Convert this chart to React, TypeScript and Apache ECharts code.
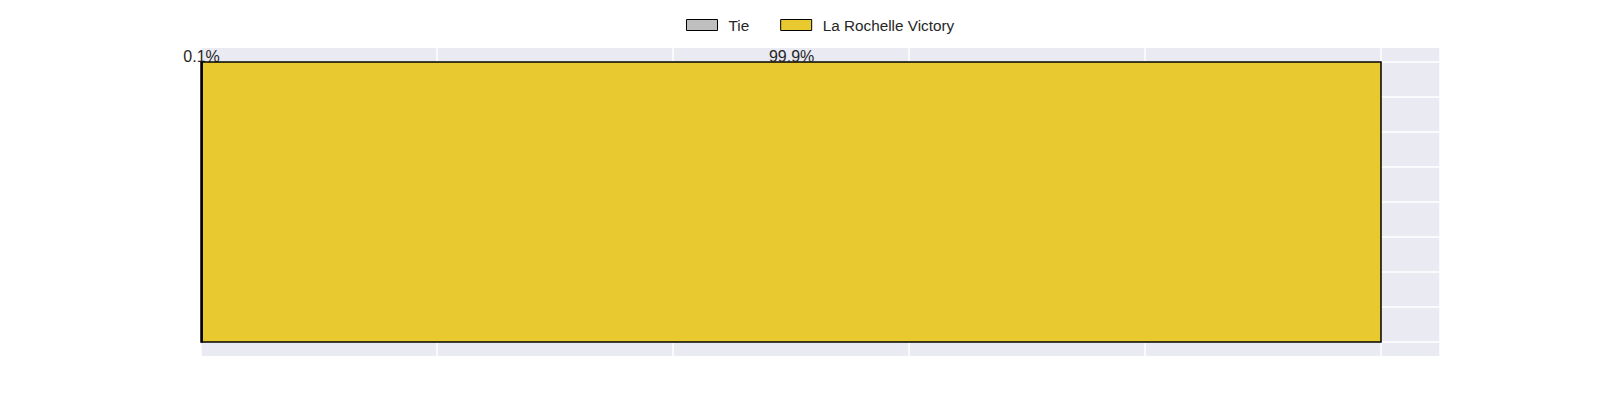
import React, { useEffect, useRef } from "react";
import * as echarts from "echarts";

const categories = ["Outcome"];
const seriesNames = ["Tie", "La Rochelle Victory"];
const tieValues = [0.001];
const victoryValues = [0.999];
const valueLabels = ["0.1%", "99.9%"];
const xTicks = [0, 0.2, 0.4, 0.6, 0.8, 1.0];
const yGridTicks = [-0.4, -0.3, -0.2, -0.1, 0, 0.1, 0.2, 0.3, 0.4];
const barHalfHeight = 0.4;

const colors = ["#BFBFBF", "#E9C930"];
const FONT = "Liberation Sans, Arial, sans-serif";

export default function App() {
  const ref = useRef<HTMLDivElement>(null);
  useEffect(() => {
    if (!ref.current) return;
    const chart = echarts.init(ref.current, undefined, { renderer: "svg" });
    const valuesBySeries = [tieValues, victoryValues];
    let cum = 0;
    const seriesData = valuesBySeries.map((vals, i) => {
      const start = cum;
      const end = cum + vals[0];
      cum = end;
      return [[start, end, valueLabels[i]]];
    });

    const barSeries = seriesNames.map((name, i) => ({
      type: "custom",
      name,
      z: 3,
      itemStyle: { color: colors[i], borderColor: "#000", borderWidth: 1 },
      encode: { x: [0, 1] },
      data: seriesData[i],
      renderItem: (params: any, api: any) => {
        const s = api.value(0);
        const e = api.value(1);
        const label = seriesData[i][0][2];
        const p0 = api.coord([s, barHalfHeight]);
        const p1 = api.coord([e, -barHalfHeight]);
        return {
          type: "group",
          children: [
            {
              type: "rect",
              shape: { x: p0[0], y: p0[1], width: p1[0] - p0[0], height: p1[1] - p0[1] },
              style: { fill: colors[i], stroke: "#000", lineWidth: 1.5 },
            },
            {
              type: "text",
              x: (p0[0] + p1[0]) / 2,
              y: p0[1] - 6,
              style: {
                text: label,
                fill: "#262626",
                font: `16px ${FONT}`,
                align: "center",
                verticalAlign: "middle",
              },
            },
          ],
        };
      },
    }));

    const gridSeries = {
      type: "custom",
      name: "grid",
      z: 1,
      silent: true,
      data: yGridTicks.map((y) => [y]),
      encode: { y: 0 },
      renderItem: (params: any, api: any) => {
        const y = api.value(0);
        const a = api.coord([0, y]);
        const b = api.coord([1.05, y]);
        return {
          type: "line",
          shape: { x1: a[0], y1: a[1], x2: b[0], y2: b[1] },
          style: { stroke: "#ffffff", lineWidth: 1.5 },
        };
      },
    };

    chart.setOption({
      animation: false,
      backgroundColor: "#ffffff",
      legend: {
        data: seriesNames,
        left: 681,
        top: 11,
        icon: "rect",
        itemWidth: 31,
        itemHeight: 11,
        itemGap: 31,
        textStyle: { fontSize: 15.3, lineHeight: 18, fontFamily: FONT, color: "#262626", padding: [0, 0, 0, 6] },
        itemStyle: { borderColor: "#000", borderWidth: 1 },
      },
      grid: { left: 201, right: 160, top: 48, bottom: 44, containLabel: false, show: true, backgroundColor: "#EAEAF2", borderWidth: 0 },
      xAxis: {
        type: "value",
        min: xTicks[0],
        max: 1.05,
        interval: 0.2,
        axisLine: { show: false },
        axisTick: { show: false },
        axisLabel: { show: false },
        splitLine: { show: true, lineStyle: { color: "#ffffff", width: 1.5 } },
      },
      yAxis: {
        type: "value",
        name: categories[0],
        nameTextStyle: { color: "transparent" },
        min: -0.44,
        max: 0.44,
        axisLine: { show: false },
        axisTick: { show: false },
        axisLabel: { show: false },
        splitLine: { show: false },
      },
      series: [gridSeries, ...barSeries],
    });
    return () => chart.dispose();
  }, []);
  return <div ref={ref} style={{ position: "absolute", left: 0, top: 0, width: 1600, height: 400 }} />;
}
